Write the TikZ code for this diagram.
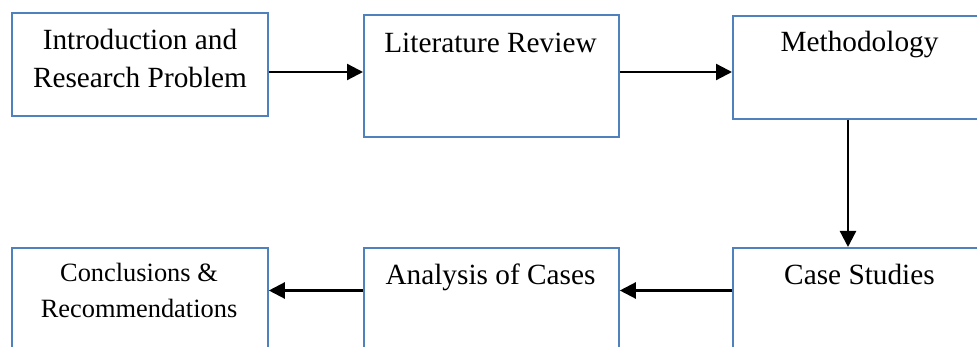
\documentclass[tikz,border=0pt]{standalone}
\usepackage{fontspec}
\setmainfont{Liberation Serif}
\usetikzlibrary{arrows.meta}
\definecolor{boxblue}{RGB}{79,129,189}
\begin{document}
\begin{tikzpicture}[x=1pt,y=-1pt,
  stagebox/.style={draw=boxblue, line width=1.8pt, fill=white, inner sep=0pt, anchor=north west},
  lbl/.style={anchor=base, inner sep=0pt, font=\fontsize{29.3}{35}\selectfont},
  smalllbl/.style={anchor=base, inner sep=0pt, font=\fontsize{26.4}{32}\selectfont},
  flow/.style={line width=2.3pt, -{Triangle[length=16pt,width=16pt]}}]
\useasboundingbox (0,0) rectangle (977,347);
\clip (0,0) rectangle (977,347);

% stage boxes, top row
\node[stagebox, minimum width=256pt, minimum height=103pt] (intro) at (11,12) {};
\node[stagebox, minimum width=255pt, minimum height=122pt] (lit) at (363,14) {};
\node[stagebox, minimum width=255pt, minimum height=103pt] (meth) at (732,15) {};
% stage boxes, bottom row
\node[stagebox, minimum width=256pt, minimum height=120pt] (concl) at (11,247) {};
\node[stagebox, minimum width=255pt, minimum height=120pt] (anal) at (363,247) {};
\node[stagebox, minimum width=255pt, minimum height=120pt] (cases) at (732,247) {};

% labels
\node[lbl] (introA) at (140,49.3) {Introduction and};
\node[lbl] (introB) at (140,87.3) {Research Problem};
\node[lbl] (litA) at (490.5,52.3) {Literature Review};
\node[lbl] (methA) at (859.5,51.7) {Methodology};
\node[lbl] (casesA) at (859.5,284) {Case Studies};
\node[lbl] (analA) at (490.5,284.3) {Analysis of Cases};
\node[smalllbl] (conclA) at (139,281.7) {Conclusions \&};
\node[smalllbl] (conclB) at (139,317.3) {Recommendations};

% flow between stages
\coordinate (topflow) at (0,72);
\coordinate (botflow) at (0,290.5);
\coordinate (downflow) at (848,0);
\draw[flow] (intro.east |- topflow) -- (lit.west |- topflow);
\draw[flow] (lit.east |- topflow) -- (meth.west |- topflow);
\draw[flow] (meth.south -| downflow) -- (cases.north -| downflow);
\draw[flow] (cases.west |- botflow) -- (anal.east |- botflow);
\draw[flow] (anal.west |- botflow) -- (concl.east |- botflow);
\end{tikzpicture}
\end{document}
